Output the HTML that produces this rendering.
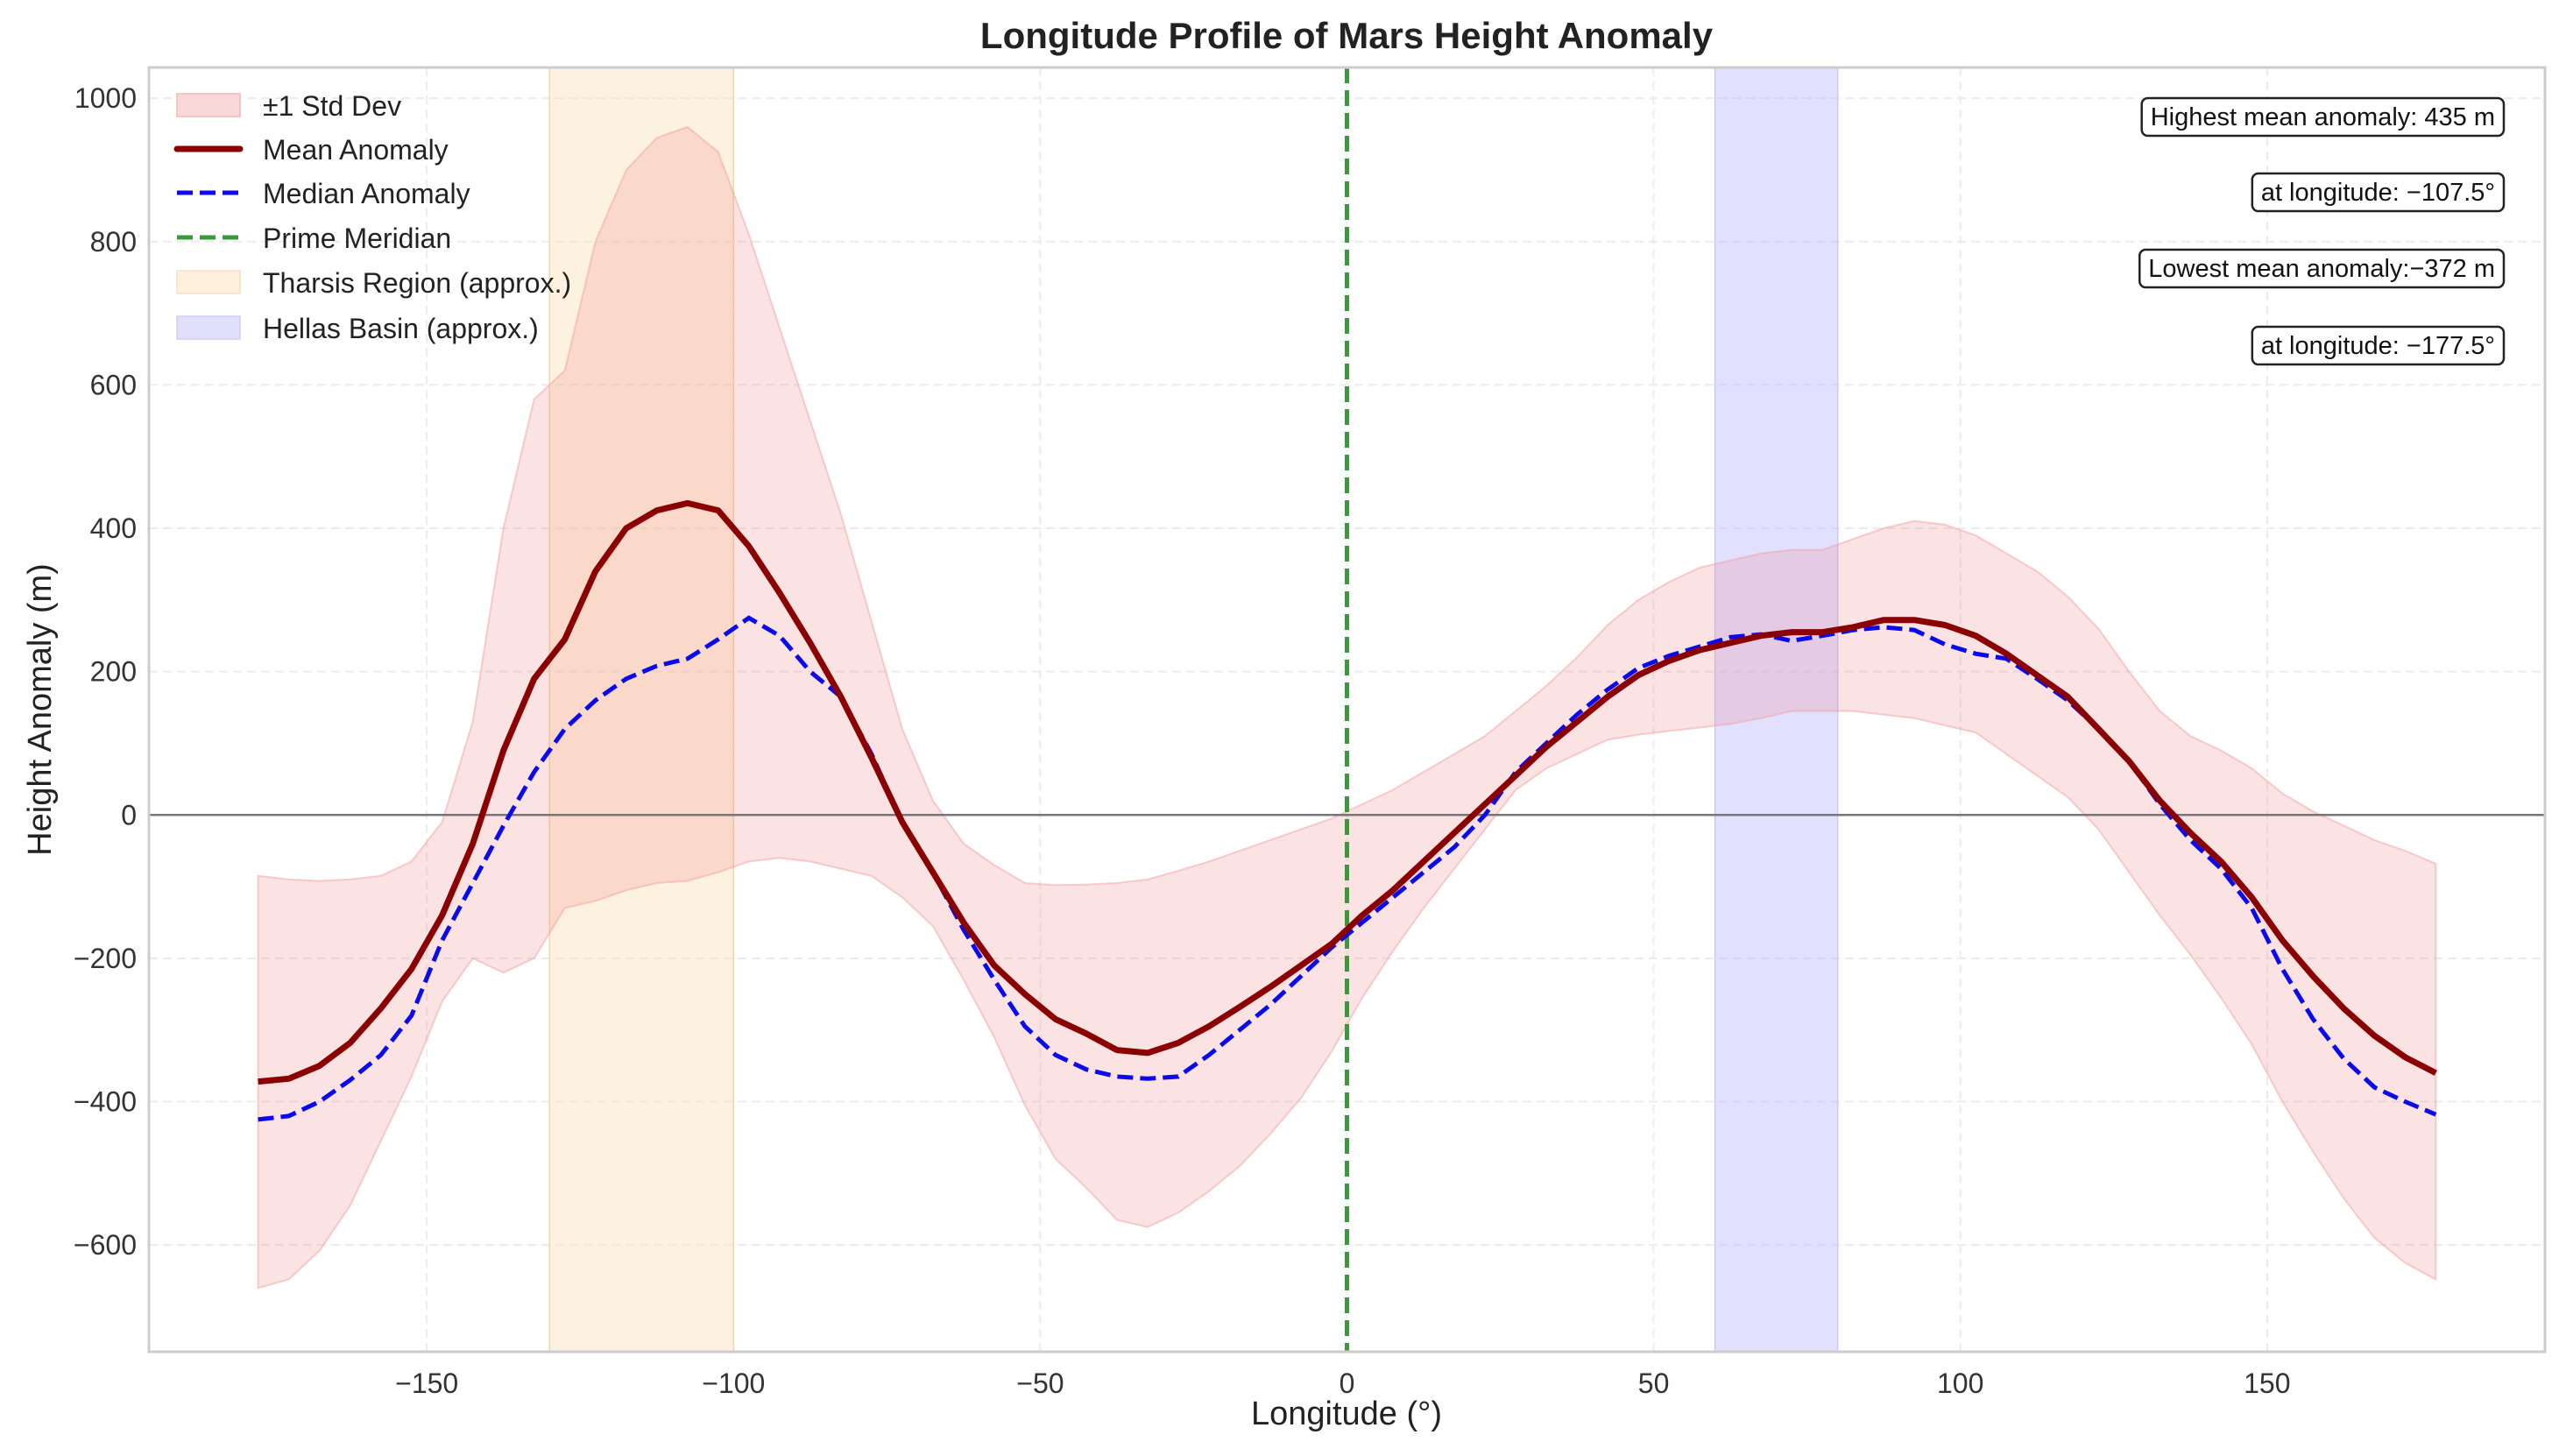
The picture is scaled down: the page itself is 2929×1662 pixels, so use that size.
<!DOCTYPE html>
<html><head><meta charset="utf-8"><style>
html,body{margin:0;padding:0;background:#fff}
svg{display:block;font-family:"Liberation Sans",Arial,sans-serif}
</style></head><body>
<svg id="chart" width="2929" height="1662" viewBox="0 0 2929 1662">
<rect x="0" y="0" width="2929" height="1662" fill="#fff"/>
<text x="1537" y="55" font-size="42" font-weight="bold" text-anchor="middle" fill="#222">Longitude Profile of Mars Height Anomaly</text>
<g id="grid"></g>
<g id="regions"></g>
<g id="series"></g>
<rect x="170" y="77" width="2735" height="1466" fill="none" stroke="#ccc" stroke-width="3"/>
<g id="ticks"></g>
<text x="1537" y="1626" font-size="38" text-anchor="middle" fill="#222">Longitude (°)</text>
<text x="58" y="810" font-size="38" text-anchor="middle" fill="#222" transform="rotate(-90 58 810)">Height Anomaly (m)</text>
<g id="legend"></g>
<g id="notes"></g>
</svg>
<script>
const lons = [];
for (let i = 0; i < 72; i++) lons.push(-177.5 + 5 * i);
const meanVals = [-372,-368,-350,-318,-270,-215,-140,-40,90,190,245,340,400,425,435,425,375,310,240,165,80,-10,-80,-150,-210,-250,-285,-305,-328,-332,-318,-295,-268,-240,-210,-180,-140,-105,-65,-25,15,55,95,130,165,195,215,230,240,250,255,255,262,272,272,265,250,225,195,165,120,75,20,-25,-65,-115,-175,-225,-270,-308,-338,-360];
const medianVals = [-425,-420,-400,-370,-335,-280,-175,-95,-15,60,120,160,190,208,218,245,275,250,200,165,85,-10,-80,-160,-230,-295,-335,-355,-365,-368,-365,-335,-300,-265,-225,-185,-150,-115,-80,-45,0,60,100,140,175,205,222,235,248,252,243,250,258,262,258,238,225,218,190,160,120,75,15,-35,-75,-130,-215,-285,-340,-380,-400,-418];
const upperVals = [-85,-90,-92,-90,-85,-65,-10,130,400,580,620,800,900,945,960,925,810,680,550,420,270,120,20,-40,-70,-95,-98,-97,-95,-90,-78,-65,-50,-35,-20,-5,15,35,60,85,110,145,180,220,265,300,325,345,355,365,370,370,385,400,410,405,390,365,340,305,260,200,145,110,90,65,30,5,-15,-35,-50,-68];
const lowerVals = [-660,-648,-608,-545,-455,-365,-260,-200,-220,-200,-130,-120,-105,-95,-92,-80,-65,-60,-65,-75,-85,-115,-155,-230,-310,-405,-480,-520,-565,-575,-555,-525,-490,-445,-395,-330,-255,-190,-130,-75,-20,35,65,85,105,112,117,122,127,135,145,145,145,140,135,125,115,85,55,25,-20,-80,-140,-195,-255,-320,-400,-470,-535,-590,-625,-648];
const xTicks = [-150,-100,-50,0,50,100,150];
const yTicks = [-600,-400,-200,0,200,400,600,800,1000];
const tharsis = [-130,-100];
const hellas = [60,80];
const notes = ["Highest mean anomaly: 435 m","at longitude: \u2212107.5°","Lowest mean anomaly:\u2212372 m","at longitude: \u2212177.5°"];

const L=170,R=2905,T=77,B=1543, XMIN=-195.3,XMAX=195.3,YMIN=-749,YMAX=1043;
const sx=v=>L+(v-XMIN)/(XMAX-XMIN)*(R-L);
const sy=v=>B-(v-YMIN)/(YMAX-YMIN)*(B-T);
const NS="http://www.w3.org/2000/svg";
function mk(tag,attrs,parent){const e=document.createElementNS(NS,tag);for(const k in attrs)e.setAttribute(k,attrs[k]);parent.appendChild(e);return e;}
const grid=document.getElementById('grid'),regions=document.getElementById('regions'),series=document.getElementById('series'),ticks=document.getElementById('ticks'),legend=document.getElementById('legend'),notesG=document.getElementById('notes');

xTicks.forEach(v=>{
  const g=mk('line',{x1:sx(v),x2:sx(v),y1:T,y2:B,stroke:'#ececec','stroke-width':2,'stroke-dasharray':'10,6'},grid);
  
  
  const t=mk('text',{x:sx(v),y:B+47,'font-size':32,'text-anchor':'middle',fill:'#333'},ticks);
  t.textContent=v<0?'\u2212'+Math.abs(v):String(v);
  
  
});
yTicks.forEach(v=>{
  const g=mk('line',{x1:L,x2:R,y1:sy(v),y2:sy(v),stroke:'#ececec','stroke-width':2,'stroke-dasharray':'10,6'},grid);
  
  
  const t=mk('text',{x:L-14,y:sy(v)+11,'font-size':32,'text-anchor':'end',fill:'#333'},ticks);
  t.textContent=v<0?'\u2212'+Math.abs(v):String(v);
  
  
});

const th=mk('rect',{x:sx(tharsis[0]),y:T,width:sx(tharsis[1])-sx(tharsis[0]),height:B-T,fill:'#fbe3b8','fill-opacity':0.45,stroke:'#f3d7a8','stroke-width':1.5},regions);


const he=mk('rect',{x:sx(hellas[0]),y:T,width:sx(hellas[1])-sx(hellas[0]),height:B-T,fill:'#b8b8ff','fill-opacity':0.42,stroke:'#c8c8f5','stroke-width':1.5},regions);



let bd='';
lons.forEach((x,i)=>{bd+=(i?'L':'M')+sx(x).toFixed(1)+','+sy(upperVals[i]).toFixed(1);});
for(let i=lons.length-1;i>=0;i--)bd+='L'+sx(lons[i]).toFixed(1)+','+sy(lowerVals[i]).toFixed(1);
const band=mk('path',{d:bd+'Z',fill:'#f08080','fill-opacity':0.22,stroke:'#f3a0a0','stroke-opacity':0.5,'stroke-width':2},series);



const zl=mk('line',{x1:L,x2:R,y1:sy(0),y2:sy(0),stroke:'#777','stroke-width':2.5},series);


const pm=mk('line',{x1:sx(0),x2:sx(0),y1:T,y2:B,stroke:'#3a9a3a','stroke-width':5,'stroke-dasharray':'18,8'},series);



const ln=v=>v.map((y,i)=>(i?'L':'M')+sx(lons[i]).toFixed(1)+','+sy(y).toFixed(1)).join('');
const med=mk('path',{d:ln(medianVals),fill:'none',stroke:'#0a0aee','stroke-width':5,'stroke-dasharray':'18,8'},series);


const mean=mk('path',{d:ln(meanVals),fill:'none',stroke:'#8b0000','stroke-width':7,'stroke-linejoin':'round'},series);



const legItems=[
 ['patch','#f8d7d7','#f3b8b8','±1 Std Dev','legend-std-dev'],
 ['line','#8b0000',null,'Mean Anomaly','legend-mean'],
 ['dash','#0a0aee',null,'Median Anomaly','legend-median'],
 ['dash','#3a9a3a',null,'Prime Meridian','legend-prime-meridian'],
 ['patch','#fdf0dc','#f6e0c0','Tharsis Region (approx.)','legend-tharsis'],
 ['patch','#e0e0fc','#cfcff6','Hellas Basin (approx.)','legend-hellas']];
const rowsY=[120,170,220,271,322,374];
legItems.forEach((it,i)=>{
  const y=rowsY[i];
  const g=mk('g',{},legend);
  
  
  if(it[0]==='patch')mk('rect',{x:202,y:y-13,width:72,height:26,fill:it[1],stroke:it[2],'stroke-width':1.5},g);
  else if(it[0]==='line')mk('line',{x1:202,x2:274,y1:y,y2:y,stroke:it[1],'stroke-width':7,'stroke-linecap':'round'},g);
  else mk('line',{x1:202,x2:274,y1:y,y2:y,stroke:it[1],'stroke-width':5,'stroke-dasharray':'18,8'},g);
  const t=mk('text',{x:300,y:y+12,'font-size':32,fill:'#222'},g);
  t.textContent=it[3];
});

const notesY=[133,219,306,394];
notes.forEach((s,i)=>{
  const g=mk('g',{},notesG);
  
  
  const t=mk('text',{x:2848,y:notesY[i]+10,'font-size':29,'text-anchor':'end',fill:'#111'},g);
  t.textContent=s;
  const w=t.getComputedTextLength()+20;
  const r=mk('rect',{x:2858-w,y:notesY[i]-21,width:w,height:43,rx:7,fill:'#fff',stroke:'#222','stroke-width':2.5},g);
  g.insertBefore(r,t);
});
</script>
</body></html>
